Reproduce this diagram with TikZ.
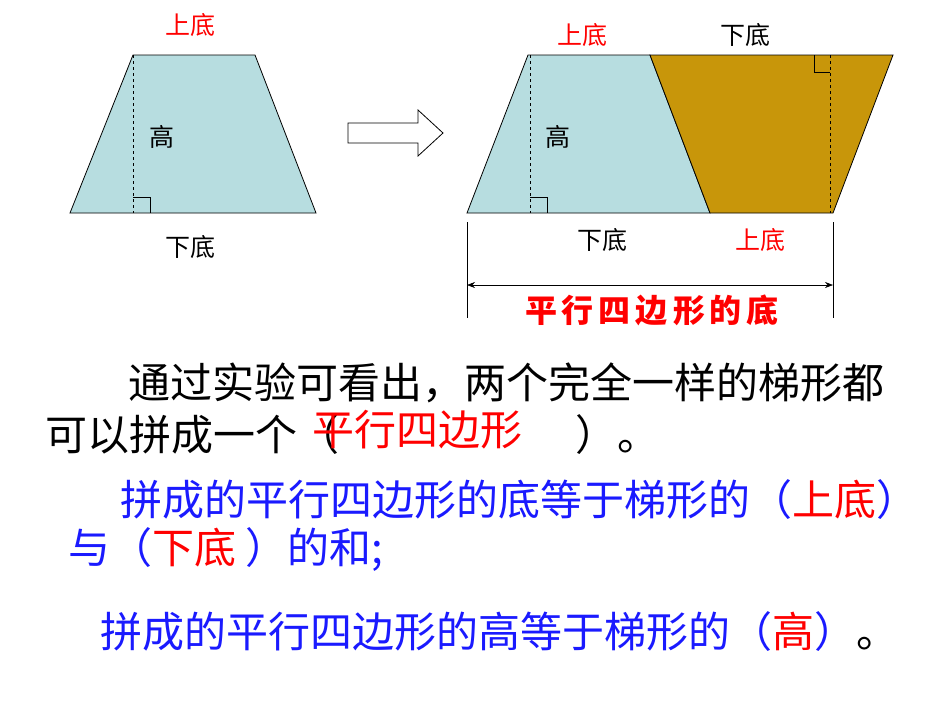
\documentclass[tikz,border=0pt]{standalone}
\usepackage{fontspec}
\setmainfont{Noto Sans CJK SC}
\usetikzlibrary{arrows.meta}
\definecolor{lb}{HTML}{B7DDE0}
\definecolor{gd}{HTML}{C8960A}
\definecolor{bl}{HTML}{1A1AFF}
\tikzset{lbl/.style={font=\fontsize{25}{27}\selectfont},
 big/.style={font=\fontsize{42}{44}\selectfont,anchor=west,inner sep=0pt},
 shp/.style={draw=black,line width=0.8pt},
 ra/.style={draw=black,line width=0.6pt}}
\begin{document}
\begin{tikzpicture}[x=1pt,y=-1pt]
\useasboundingbox[fill=white] (0,0) rectangle (950,713);
% left trapezoid
\draw[shp,fill=lb] (70,213) -- (133,55) -- (255,55) -- (316,213) -- cycle;
\draw[dashed,line width=0.6pt] (133,55) -- (133,213);
\draw[ra] (133,197) -- (150,197) -- (150,213);
\node[lbl,red] (a1) at (190,25) {上底};
\node[lbl] (a2) at (162,137) {高};
\node[lbl] (a3) at (190,247) {下底};
% arrow
\draw[line width=0.8pt,fill=white] (348,123) -- (418,123) -- (418,110) -- (443,133) -- (418,156) -- (418,143) -- (348,143) -- cycle;
% right shapes
\draw[shp,fill=lb] (467,213) -- (528,55) -- (650,55) -- (710,213) -- cycle;
\draw[shp,fill=gd] (650,55) -- (893,55) -- (833,213) -- (710,213) -- cycle;
\draw[dashed,line width=0.6pt] (530,55) -- (530,213);
\draw[dashed,line width=0.6pt] (830,55) -- (830,213);
\draw[ra] (530,197) -- (547,197) -- (547,213);
\draw[ra] (814,55) -- (814,72) -- (830,72);
\node[lbl,red] (b1) at (582,35) {上底};
\node[lbl] (b2) at (745,35) {下底};
\node[lbl] (b3) at (558,137) {高};
\node[lbl] (b4) at (602,240) {下底};
\node[lbl,red] (b5) at (760,240) {上底};
\coordinate (l1) at (467,222); \coordinate (l2) at (467,318);
\coordinate (r1) at (833,222); \coordinate (r2) at (833,318);
\draw[line width=0.6pt] (l1) -- (l2); \draw[line width=0.6pt] (r1) -- (r2);
\coordinate (m1) at (467,285); \coordinate (m2) at (833,285);
\draw[{Stealth[length=8pt]}-{Stealth[length=8pt]},line width=0.6pt] (m1) -- (m2);
\node[red,font=\fontsize{32}{34}\selectfont\bfseries] (pb) at (652,310) {平\hspace{5pt}行\hspace{5pt}四\hspace{5pt}边\hspace{5pt}形\hspace{5pt}的\hspace{5pt}底};
% text
\node[big] (t1) at (128,383) {通过实验可看出，两个完全一样的梯形都};
\node[big] (t2) at (45,435) {可以拼成一个（};
\node[big] (t2b) at (575,435) {）。};
\node[big,red] (t2r) at (312,430) {平行四边形};
\node[big,bl] (t3) at (120,500) {拼成的平行四边形的底等于梯形的（\textcolor{red}{上底}）};
\node[big,bl] (t4) at (68,550) {与（\textcolor{red}{下底} ）的和;};
\node[big,bl] (t5) at (100,632) {拼成的平行四边形的高等于梯形的（\textcolor{red}{高}）\textcolor{black}{。}};
\end{tikzpicture}
\end{document}
